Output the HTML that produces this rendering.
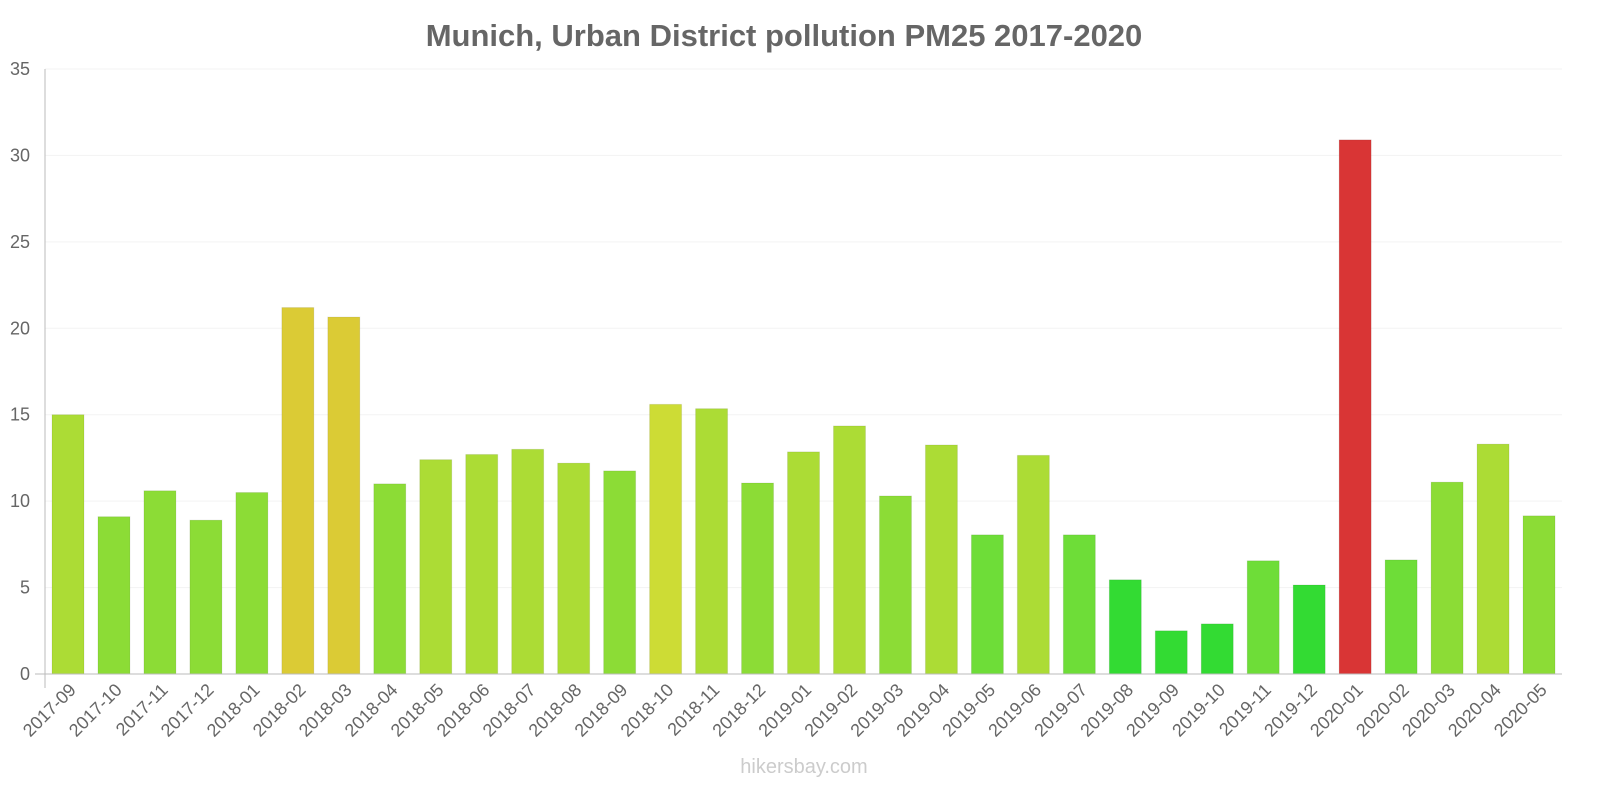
<!DOCTYPE html>
<html><head><meta charset="utf-8"><style>
body{margin:0;background:#fff;}
svg text{font-family:"Liberation Sans",Arial,sans-serif;}
</style></head><body>
<svg id="chart" width="1600" height="800">
<text x="784" y="46" text-anchor="middle" font-size="31" font-weight="bold" fill="#666">Munich, Urban District pollution PM25 2017-2020</text>
<text x="804" y="773" text-anchor="middle" font-size="20" fill="#ccc">hikersbay.com</text>
<g id="grid"></g><g id="bars"></g><g id="axes"></g>
</svg>
<script>
const categories=["2017-09","2017-10","2017-11","2017-12","2018-01","2018-02","2018-03","2018-04","2018-05","2018-06","2018-07","2018-08","2018-09","2018-10","2018-11","2018-12","2019-01","2019-02","2019-03","2019-04","2019-05","2019-06","2019-07","2019-08","2019-09","2019-10","2019-11","2019-12","2020-01","2020-02","2020-03","2020-04","2020-05"];
const values=[15.0,9.1,10.6,8.9,10.5,21.2,20.65,11.0,12.4,12.7,13.0,12.2,11.75,15.6,15.35,11.05,12.85,14.35,10.3,13.25,8.05,12.65,8.05,5.45,2.5,2.9,6.55,5.15,30.9,6.6,11.1,13.3,9.15];
const yTicks=[0,5,10,15,20,25,30,35];
const NS="http://www.w3.org/2000/svg";
const L=45,R=1562,T=69,B=674,maxY=35;
const y=v=>B-(v/maxY)*(B-T);
const band=(R-L)/categories.length;
const x=i=>L+i*band;
function col(v){if(v<6)return"#33db33";if(v<8.5)return"#6edd38";if(v<12)return"#8cdc36";if(v<15.5)return"#acdc35";if(v<20)return"#cddc35";if(v<25)return"#dbcb35";return"#d93535";}
function mk(t,a,p){const e=document.createElementNS(NS,t);for(const k in a)e.setAttribute(k,a[k]);p.appendChild(e);return e;}
const grid=document.getElementById('grid'),bars=document.getElementById('bars'),axes=document.getElementById('axes');
yTicks.forEach(t=>{
 const g=mk('line',{x1:L,x2:R,y1:y(t),y2:y(t),stroke:"#f3f3f3"},grid);
 
 
 const tx=mk('text',{x:30,y:y(t)+6,'text-anchor':'end','font-size':18,fill:'#666'},axes);
 tx.textContent=t;
 
 
});
values.forEach((v,i)=>{
 const c=col(v);
 const r=mk('rect',{x:x(i)+7,y:y(v),width:32,height:B-y(v),fill:c,stroke:"rgba(0,0,0,0.08)"},bars);
 
 
 const cx=x(i)+band/2;
 const tx=mk('text',{x:cx+9,y:B+17,'text-anchor':'end','font-size':18,fill:'#666',transform:`rotate(-45 ${cx+9} ${B+17})`},axes);
 tx.textContent=categories[i];
 
 
});
const ax=mk('line',{x1:L,x2:L,y1:T,y2:B+14,stroke:"#bbb"},axes);


const bx=mk('line',{x1:L-10,x2:R,y1:B,y2:B,stroke:"#bbb"},axes);


</script>
</body></html>
